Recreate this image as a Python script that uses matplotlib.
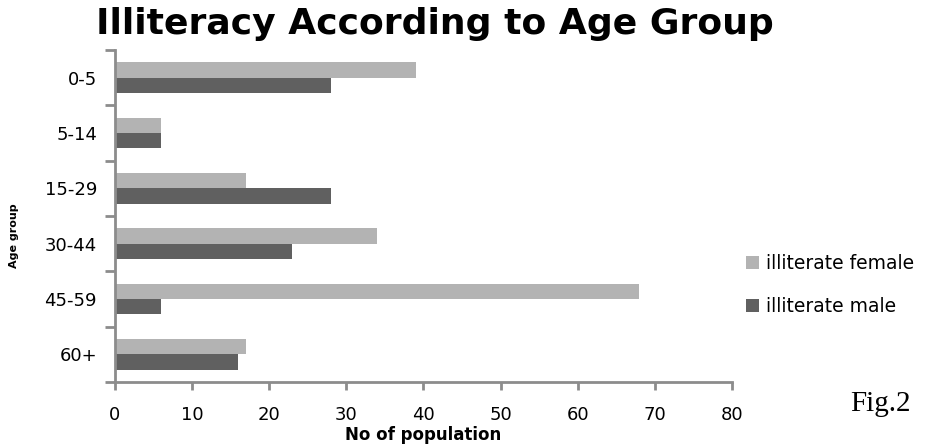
import matplotlib.pyplot as plt
import numpy as np

# data
age_groups = ['0-5', '5-14', '15-29', '30-44', '45-59', '60+']
female = [39, 6, 17, 34, 68, 17]
male = [28, 6, 28, 23, 6, 16]

light = '#b3b3b3'
dark = '#606060'
axis_grey = '#8c8c8c'

fig = plt.figure(figsize=(9.28, 4.44), dpi=100)
ax = fig.add_axes([115/928, 1 - 382/444, (732 - 115)/928, (382 - 50)/444])

y = np.arange(len(age_groups))
h = 0.28
ax.barh(y - h/2, female, height=h, color=light, label='illiterate female')
ax.barh(y + h/2, male, height=h, color=dark, label='illiterate male')

ax.set_xlim(0, 80)
ax.set_ylim(len(age_groups) - 0.5, -0.5)
ax.set_xticks(range(0, 81, 10))
ax.set_yticks(y)
ax.set_yticklabels(age_groups)
ax.set_yticks(np.arange(-0.5, len(age_groups)), minor=True)

ax.tick_params(axis='y', which='major', length=0, pad=13, labelsize=13)
ax.tick_params(axis='y', which='minor', length=7, width=2, color=axis_grey, direction='out')
ax.tick_params(axis='x', length=6, width=2, color=axis_grey, direction='out', pad=11, labelsize=13)

for s in ['top', 'right']:
    ax.spines[s].set_visible(False)
for s in ['left', 'bottom']:
    ax.spines[s].set_color(axis_grey)
    ax.spines[s].set_linewidth(2)

ax.set_xlabel('No of population', fontsize=12, fontweight='bold', labelpad=2)

fig.text(435/928, 1 - 24/444, 'Illiteracy According to Age Group', fontsize=26,
         fontweight='bold', ha='center', va='center')
fig.text(14/928, 1 - 236/444, 'Age group', fontsize=8, fontweight='bold',
         rotation=90, ha='center', va='center')
fig.text(880/928, 1 - 404/444, 'Fig.2', fontsize=21, family='Liberation Serif',
         ha='center', va='center')

ax.legend(loc='upper left', bbox_to_anchor=(729/928, 1 - 237/444),
          bbox_transform=fig.transFigure, frameon=False, fontsize=13.5,
          handlelength=0.7, handleheight=0.7, handletextpad=0.4, labelspacing=1.3)

plt.savefig('out.png', dpi=100)
